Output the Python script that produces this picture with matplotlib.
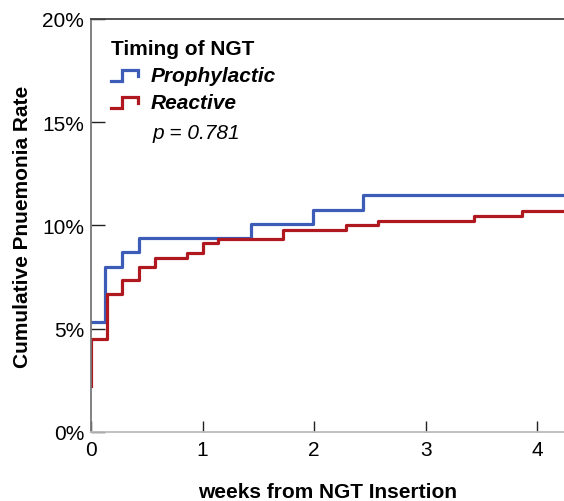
import numpy as np
import matplotlib.pyplot as plt
from matplotlib.legend_handler import HandlerBase
from matplotlib.lines import Line2D

plt.rcParams['font.family'] = ['Liberation Sans', 'DejaVu Sans']

# Cumulative pneumonia rate (%)
prophy_t = [0, 0.125, 0.28, 0.43, 1.43, 1.99, 2.44, 4.24]
prophy_y = [5.34, 8.0, 8.73, 9.38, 10.08, 10.77, 11.48, 11.48]
react_t = [0, 0, 0.14, 0.28, 0.43, 0.57, 0.86, 1.0, 1.14, 1.72, 2.29, 2.57, 3.43, 3.86, 4.24]
react_y = [2.24, 4.5, 6.68, 7.36, 7.99, 8.44, 8.67, 9.14, 9.33, 9.78, 10.0, 10.23, 10.47, 10.69, 10.69]

blue = '#3d5cb8'
red = '#b01820'


class StepHandler(HandlerBase):
    # little step-shaped legend icon
    def create_artists(self, legend, orig, xd, yd, w, h, fontsize, trans):
        xs = [xd, xd + 0.4 * w, xd + 0.4 * w, xd + w, xd + w]
        ys = [yd + 0.1 * h, yd + 0.1 * h, yd + 0.9 * h, yd + 0.9 * h, yd + 0.45 * h]
        ln = Line2D(xs, ys, color=orig.get_color(), lw=orig.get_linewidth(),
                    solid_joinstyle='miter', transform=trans)
        return [ln]


fig = plt.figure(figsize=(5.64, 5.02), dpi=100)
ax = fig.add_axes([0.1613, 0.1375, 0.8387, 0.8227])

l1, = ax.step(prophy_t, prophy_y, where='post', color=blue, lw=2.3, label='Prophylactic')
l2, = ax.step(react_t, react_y, where='post', color=red, lw=2.3, label='Reactive')

ax.set_xlim(0, 4.24)
ax.set_ylim(0, 20)
ax.set_xticks([0, 1, 2, 3, 4])
ax.set_yticks([0, 5, 10, 15, 20])
ax.set_yticklabels(['0%', '5%', '10%', '15%', '20%'])
ax.tick_params(axis='both', direction='in', labelsize=15, color='#222222', width=1)
ax.tick_params(axis='x', length=8, pad=6)
ax.tick_params(axis='y', length=10, pad=5)

ax.spines['right'].set_visible(False)
ax.spines['top'].set_color('#444444')
ax.spines['left'].set_color('#777777')
ax.spines['bottom'].set_color('#bbbbbb')
for s in ['top', 'left', 'bottom']:
    ax.spines[s].set_linewidth(1.3)

ax.set_xlabel('weeks from NGT Insertion', fontsize=15, fontweight='bold', labelpad=16)
ax.set_ylabel('Cumulative Pnuemonia Rate', fontsize=15, fontweight='bold', labelpad=7)

leg = ax.legend(handles=[l1, l2], loc='upper left', bbox_to_anchor=(0.042, 0.952),
                borderaxespad=0, borderpad=0,
                title='Timing of NGT', frameon=False, handler_map={Line2D: StepHandler()},
                prop={'weight': 'bold', 'style': 'italic', 'size': 15},
                title_fontproperties={'weight': 'bold', 'size': 15},
                handlelength=1.3, handleheight=0.6, handletextpad=0.6, labelspacing=0.4)
leg._legend_box.align = 'left'
leg._legend_box.sep = 6

ax.text(0.131, 0.726, 'p = 0.781', transform=ax.transAxes, fontsize=15,
        style='italic', va='center', ha='left')

fig.savefig('out.png', dpi=100)
